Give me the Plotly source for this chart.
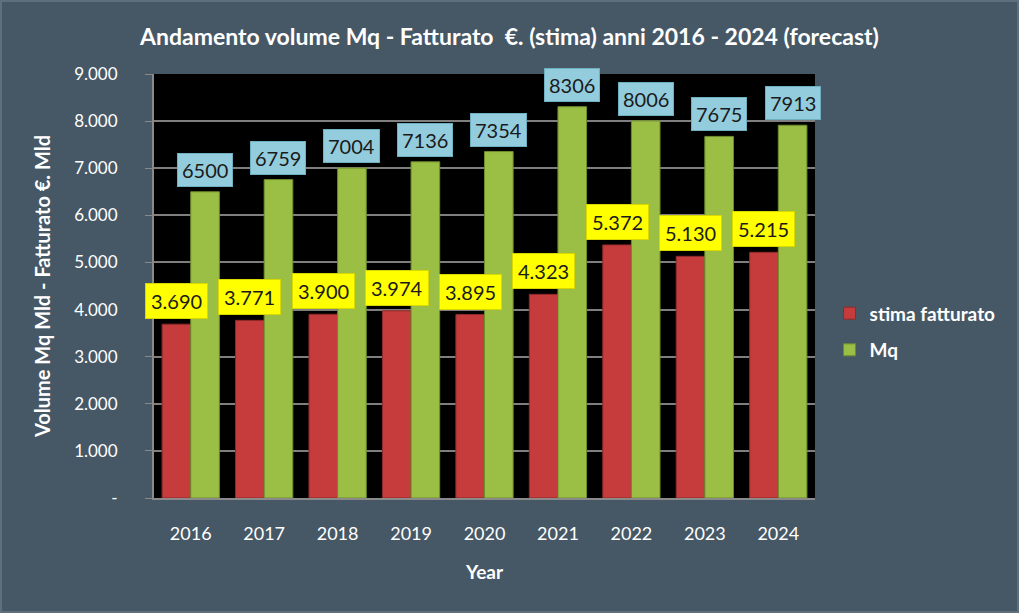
import plotly.graph_objects as go

years = ["2016", "2017", "2018", "2019", "2020", "2021", "2022", "2023", "2024"]
fatturato = [3690, 3771, 3900, 3974, 3895, 4323, 5372, 5130, 5215]
mq = [6500, 6759, 7004, 7136, 7354, 8306, 8006, 7675, 7913]
ytick_vals = [0, 1000, 2000, 3000, 4000, 5000, 6000, 7000, 8000, 9000]
ytick_text = ["-", "1.000", "2.000", "3.000", "4.000", "5.000", "6.000", "7.000", "8.000", "9.000"]

BG = "#465866"
FONT = "Lato"
bargap = 0.22
W, H = 1019, 613
ML, MR, MT, MB = 154, 204, 74, 115

fig = go.Figure()
fig.add_trace(go.Bar(
    x=years, y=fatturato, name="stima fatturato", legendgroup="a",
    marker=dict(color="#C63B3B", line=dict(color="#8E2A2A", width=1)),
))
fig.add_trace(go.Bar(
    x=years, y=mq, name="Mq", legendgroup="b",
    marker=dict(color="#9BBE45", line=dict(color="#6E8C2C", width=1)),
))

half = (1 - bargap) / 4
annotations = []
for i, (f, m) in enumerate(zip(fatturato, mq)):
    annotations.append(dict(
        x=i - half, y=f, xref="x", yref="y", text=f"{f:,}".replace(",", "."),
        showarrow=False, yanchor="bottom", yshift=5,
        font=dict(family=FONT, size=20, color="#1a1a1a"),
        bgcolor="#FFFF00", bordercolor="#D8D800", borderwidth=1, borderpad=5,
    ))
    annotations.append(dict(
        x=i + half, y=m, xref="x", yref="y", text=str(m),
        showarrow=False, yanchor="bottom", yshift=5,
        font=dict(family=FONT, size=20, color="#1a1a1a"),
        bgcolor="#93CDDD", bordercolor="#6FAFC2", borderwidth=1, borderpad=4,
    ))

pw, ph = W - ML - MR, H - MT - MB
fig.add_shape(
    type="rect", xref="paper", yref="paper",
    x0=-(ML - 1) / pw, x1=1 + (MR - 1) / pw, y0=-(MB - 1) / ph, y1=1 + (MT - 1) / ph,
    line=dict(color="#5e707d", width=2), fillcolor="rgba(0,0,0,0)", layer="below",
)

fig.update_layout(
    width=W, height=H,
    paper_bgcolor=BG, plot_bgcolor="#000000",
    margin=dict(l=ML, r=MR, t=MT, b=MB, autoexpand=False),
    barmode="group", bargap=bargap, bargroupgap=0,
    font=dict(family=FONT, color="white"),
    title=dict(
        text="<b>Andamento volume Mq - Fatturato  €. (stima) anni 2016 - 2024 (forecast)</b>",
        x=0.5, xanchor="center", y=1 - 37 / H, yanchor="middle",
        font=dict(family=FONT, size=23, color="white"),
    ),
    legend=dict(
        x=1.022, xanchor="left", y=0.392, yanchor="middle",
        font=dict(family=FONT, size=19, color="white", weight="bold"),
        bgcolor="rgba(0,0,0,0)", tracegroupgap=9,
    ),
    annotations=annotations,
    xaxis=dict(
        type="category", automargin=False, range=[-0.5, len(years) - 0.5],
        showline=True, linecolor="#8a8a8a", linewidth=2,
        ticks="", tickfont=dict(family=FONT, size=18, color="white"),
        ticklabelstandoff=18,
        title=dict(text="<b>Year</b>", font=dict(family=FONT, size=19, color="white"), standoff=23),
    ),
    yaxis=dict(
        range=[0, 9000], tickvals=ytick_vals, ticktext=ytick_text, automargin=False,
        showgrid=True, gridcolor="#7f7f7f", gridwidth=2,
        showline=True, linecolor="#8a8a8a", linewidth=2,
        ticks="outside", ticklen=7, tickcolor="#8a8a8a", tickwidth=1,
        tickfont=dict(family=FONT, size=17, color="white"),
        ticklabelstandoff=24,
        zeroline=False,
        title=dict(text="<b>Volume Mq Mld - Fatturato €. Mld</b>",
                   font=dict(family=FONT, size=20, color="white"), standoff=18),
    ),
)

fig.write_html(
    "out.html",
    config={"displayModeBar": False},
    post_script="document.body.style.margin='0';document.body.style.background='" + BG + "';",
)
